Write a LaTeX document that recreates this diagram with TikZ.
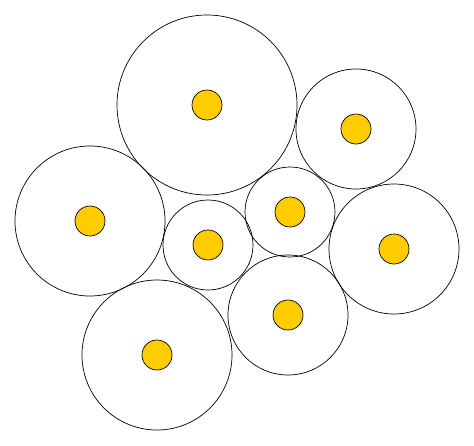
\documentclass[tikz,border=0pt]{standalone}
\usepackage{tikz}
\definecolor{yolk}{HTML}{FFCC00}
\newcommand{\egg}[3]{%
  \draw (#1,#2) circle (#3);
  \filldraw[fill=yolk] (#1,#2) circle (15);
}

\begin{document}
\begin{tikzpicture}[x=1pt,y=-1pt,line width=0.7pt]
  \useasboundingbox (0,0) rectangle (474,445);
  \foreach \x/\y/\r in {207/105/90,356/129/60,90/221/75,208/245/45,
                         290/212/45,394/249/65,288/315/60,157/355/75} {\egg{\x}{\y}{\r}}
\end{tikzpicture}
\end{document}
